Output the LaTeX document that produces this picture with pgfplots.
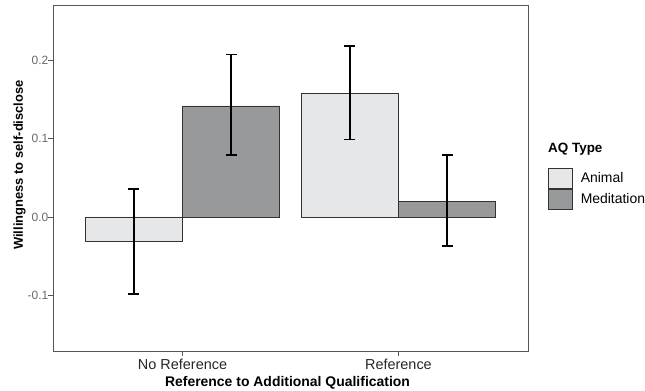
\documentclass[border=0pt]{standalone}
\usepackage{fontspec}
\setmainfont{Liberation Sans}
\usepackage{pgfplots}
\pgfplotsset{compat=1.18}
\definecolor{animal}{RGB}{229,231,233}
\definecolor{medit}{RGB}{151,153,155}
\definecolor{framec}{RGB}{85,85,85}
\definecolor{ticklab}{RGB}{105,105,105}
\begin{document}
\begin{tikzpicture}
\useasboundingbox (0,0) rectangle (645bp,391bp);
\begin{axis}[
  at={(53bp,40bp)}, anchor=south west,
  scale only axis, width=475bp, height=346bp,
  xmin=0.4, xmax=2.6, ymin=-0.1707, ymax=0.270,
  clip=false,
  axis line style={framec, line width=0.9bp},
  xtick={1,2}, xticklabels={No Reference, Reference},
  ytick={-0.1,0,0.1,0.2}, yticklabels={-0.1,0.0,0.1,0.2},
  tick align=outside, tick pos=left, major tick length=4.5bp,
  every tick/.style={framec, line width=0.8bp},
  xticklabel style={font=\fontsize{14.5}{16}\selectfont, anchor=base, text=black!85, yshift=-14bp},
  yticklabel style={font=\fontsize{12}{13}\selectfont, text=ticklab, anchor=east, inner sep=0pt, xshift=0bp},
  xlabel={Reference to Additional Qualification},
  ylabel={Willingness to self-disclose},
  xlabel style={font=\bfseries\fontsize{14}{16}\selectfont, at={(axis description cs:0.4937,-0.104)}, anchor=base},
  ylabel style={font=\bfseries\fontsize{13}{15}\selectfont, at={(axis description cs:-0.0632,0.5376)}, anchor=base},
  ybar, bar width=0.45, bar shift=0pt,
  legend style={at={(axis description cs:1.042,0.529)}, anchor=north west, draw=none, fill=none, inner sep=0pt, row sep=0.5bp,
    nodes={inner sep=0pt, font=\fontsize{14}{16}\selectfont, anchor=west}},
]
\addplot[fill=animal, draw=black!80, line width=0.6bp,
  legend image code/.code={\draw[fill=animal, draw=black!80, line width=0.6bp] (0bp,-10bp) rectangle (24bp,10bp); \path (32bp,0bp);},
  error bars/.cd, y dir=both, y explicit,
  error bar style={black, line width=1.6bp},
  error mark options={black, rotate=90, mark size=5.5bp, line width=1.6bp}]
  coordinates {(0.775,-0.0315) += (0,0.0672) -= (0,0.0665)
               (1.775,0.157) += (0,0.061) -= (0,0.0585)};
\addlegendentry{Animal}
\addplot[fill=medit, draw=black!80, line width=0.6bp,
  legend image code/.code={\draw[fill=medit, draw=black!80, line width=0.6bp] (0bp,-10bp) rectangle (24bp,10bp); \path (32bp,0bp);},
  error bars/.cd, y dir=both, y explicit,
  error bar style={black, line width=1.6bp},
  error mark options={black, rotate=90, mark size=5.5bp, line width=1.6bp}]
  coordinates {(1.225,0.1414) += (0,0.0656) -= (0,0.0628)
               (2.225,0.020) += (0,0.0586) -= (0,0.057)};
\addlegendentry{Meditation}
\node[anchor=base west, font=\bfseries\fontsize{13.5}{15}\selectfont, inner sep=0pt] at (axis description cs:1.042,0.5723) {AQ Type};
\end{axis}
\end{tikzpicture}
\end{document}
